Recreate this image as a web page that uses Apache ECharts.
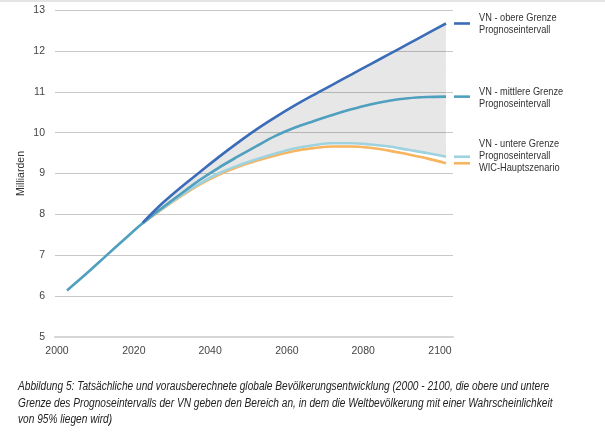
<!DOCTYPE html>
<html>
<head>
<meta charset="utf-8">
<script src="https://cdn.jsdelivr.net/npm/echarts@6/dist/echarts.min.js"></script>
<style>
html,body{margin:0;padding:0;background:#fff;}
#chart{width:605px;height:432px;}
</style>
</head>
<body>
<div id="chart"></div>
<script>
// ---- data ----
const years = [2000,2005,2010,2015,2020,2025,2030,2035,2040,2045,2050,2055,2060,2065,2070,2075,2080,2085,2090,2095,2100];
const vnMittel = [6.14,6.54,6.96,7.38,7.79,8.15,8.50,8.84,9.14,9.41,9.67,9.92,10.12,10.28,10.43,10.57,10.69,10.78,10.84,10.87,10.88];
const vnOben   = [null,null,null,null,7.80,8.26,8.66,9.03,9.40,9.75,10.08,10.38,10.66,10.92,11.17,11.42,11.67,11.92,12.17,12.42,12.67];
const vnUnten  = [null,null,null,null,7.78,8.13,8.46,8.75,9.00,9.19,9.35,9.49,9.61,9.69,9.74,9.74,9.71,9.66,9.58,9.50,9.41];
const wic      = [null,null,null,null,7.78,8.12,8.44,8.73,8.97,9.16,9.31,9.44,9.55,9.62,9.66,9.66,9.63,9.56,9.47,9.37,9.25];
const xTicks = [2000,2020,2040,2060,2080,2100];
const legendNames = [
  "VN - obere Grenze\nPrognoseintervall",
  "VN - mittlere Grenze\nPrognoseintervall",
  "VN - untere Grenze\nPrognoseintervall",
  "WIC-Hauptszenario"
];
const caption = [
  "Abbildung 5: Tatsächliche und vorausberechnete globale Bevölkerungsentwicklung (2000 - 2100, die obere und untere",
  "Grenze des Prognoseintervalls der VN geben den Bereich an, in dem die Weltbevölkerung mit einer Wahrscheinlichkeit",
  "von 95% liegen wird)"
];

const FONT = '"Liberation Sans",Arial,sans-serif';
const C_OBEN = '#3b6cb8', C_MITTEL = '#4f9fbe', C_UNTEN = '#9dd2de', C_WIC = '#f8b45e';
const X_MIN = 1996.83, X_MAX = 2101.85;

// year (possibly fractional) -> timestamp (time axis lets the band stack on y)
const YEAR_MS = 365.2425 * 86400000;
const T0 = Date.UTC(2000, 0, 1);
const yt = (y) => T0 + (y - 2000) * YEAR_MS;

const pair = (arr) => years.map((y,i) => [yt(y), arr[i]]);
const startIdx = 4;
const bandBase = [], bandDiff = [];
for (let i = startIdx; i < years.length; i++) {
  bandBase.push([yt(years[i]), vnUnten[i]]);
  bandDiff.push([yt(years[i]), +(vnOben[i] - vnUnten[i]).toFixed(3)]);
}

const chart = echarts.init(document.getElementById('chart'), null, {renderer:'canvas'});
const lineSeries = (name, data, color, z) => ({
  name, type:'line', data, smooth:0.35, symbol:'none', z,
  lineStyle:{color, width:2.6}, itemStyle:{color}
});

// label shift per tick (reference labels sit slightly left of the data positions)
const rich = {};
xTicks.forEach((v, i) => {
  const shift = 10 - (v - 2000) / 100 * 4;
  rich['a' + i] = {fontFamily:FONT, fontSize:10.5, color:'#444', padding:[0, Math.round(shift * 2), 0, 0]};
});

chart.setOption({
  animation:false,
  grid:{left:55, right:152, top:10, bottom:95},
  xAxis:[{
    type:'time', min:yt(X_MIN), max:yt(X_MAX), position:'bottom',
    splitLine:{show:false},
    axisLine:{show:true, lineStyle:{color:'#d6d6d6', width:2}},
    axisTick:{show:false},
    axisLabel:{show:false}
  },{
    type:'value', min:X_MIN, max:X_MAX, position:'bottom', offset:0,
    splitLine:{show:false}, axisLine:{show:false}, axisTick:{show:false},
    axisLabel:{
      customValues:xTicks, margin:9, hideOverlap:false,
      formatter:(v)=>{ const i = xTicks.indexOf(v); return '{a' + (i < 0 ? 0 : i) + '|' + v + '}'; },
      rich
    }
  }],
  yAxis:{
    type:'value', min:5, max:13, interval:1,
    name:'Milliarden', nameLocation:'middle', nameGap:28, nameMoveOverlap:false,
    nameTextStyle:{fontFamily:FONT, fontSize:10.5, color:'#333'},
    axisLine:{show:false}, axisTick:{show:false},
    axisLabel:{fontFamily:FONT, fontSize:10.5, color:'#444', margin:10},
    splitLine:{lineStyle:{color:'#c8c8c8', width:1}}
  },
  series:[
    {type:'line', data:bandBase, stack:'band', symbol:'none', smooth:0.35, lineStyle:{width:0, opacity:0}, areaStyle:{color:'#ffffff', opacity:0}, z:1, silent:true},
    {type:'line', data:bandDiff, stack:'band', symbol:'none', smooth:0.35, lineStyle:{width:0, opacity:0}, areaStyle:{color:'rgba(0,0,0,0.095)', opacity:1}, z:1, silent:true},
    lineSeries('wic', pair(wic), C_WIC, 3),
    lineSeries('unten', pair(vnUnten), C_UNTEN, 4),
    lineSeries('mittel', pair(vnMittel), C_MITTEL, 5),
    lineSeries('oben', pair(vnOben), C_OBEN, 6)
  ]
});

// legend entries placed at series end points
const last = years.length - 1;
const entries = [
  {val: vnOben[last],   color:C_OBEN,   text:legendNames[0], dy:0},
  {val: vnMittel[last], color:C_MITTEL, text:legendNames[1], dy:1},
  {val: vnUnten[last],  color:C_UNTEN,  text:legendNames[2], dy:-7},
  {val: wic[last],      color:C_WIC,    text:legendNames[3], dy:5}
];
const graphics = [{type:'rect', shape:{x:0,y:0,width:605,height:2}, style:{fill:'#e4e4e4'}, silent:true}];
entries.forEach(e => {
  const p = chart.convertToPixel({xAxisIndex:0, yAxisIndex:0}, [yt(years[last]), e.val]);
  graphics.push({type:'line', shape:{x1:p[0]+8, y1:p[1], x2:p[0]+24, y2:p[1]}, style:{stroke:e.color, lineWidth:2.6}, silent:true});
  graphics.push({type:'text', x:p[0]+33, y:p[1]+e.dy, scaleX:0.84, style:{text:e.text, font:'11px '+FONT, fill:'#333', verticalAlign:'middle', align:'left', lineHeight:12}, silent:true});
});
caption.forEach((t,i) => {
  graphics.push({type:'text', x:18, y:387 + i*16.5, scaleX:0.845, style:{text:t, font:'italic 12px '+FONT, fill:'#222', verticalAlign:'middle', align:'left'}, silent:true});
});
chart.setOption({graphic:graphics});
</script>
</body>
</html>
